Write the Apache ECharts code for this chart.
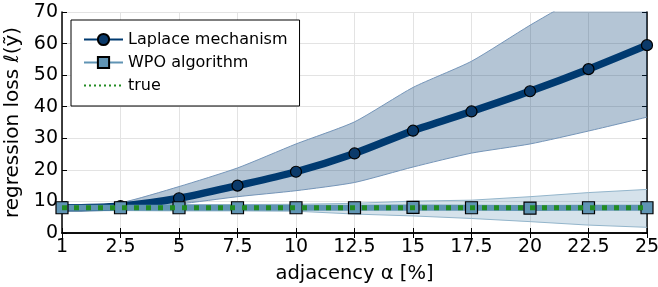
<!DOCTYPE html>
<html>
<head>
<meta charset="utf-8">
<script src="https://cdn.jsdelivr.net/npm/echarts@6/dist/echarts.min.js"></script>
<style>
  html, body { margin: 0; padding: 0; background: #fff; }
  #chart { width: 658px; height: 287px; }
</style>
</head>
<body>
<div id="chart"></div>
<script>
// adjacency alpha [%]
var categories = ["1", "2.5", "5", "7.5", "10", "12.5", "15", "17.5", "20", "22.5", "25"];

// Laplace mechanism: mean, lower/upper band
var laplaceMean  = [8.0, 8.5, 11.0, 15.0, 19.4, 25.2, 32.4, 38.5, 44.9, 51.9, 59.5];
var laplaceLower = [7.6, 8.0, 9.2, 11.5, 13.4, 16.0, 20.9, 25.3, 28.2, 32.3, 36.7];
var laplaceUpper = [8.6, 9.6, 14.7, 20.6, 28.2, 35.2, 46.1, 54.4, 65.8, 76.5, 87.5];

// WPO algorithm: mean, lower/upper band
var wpoMean  = [8.0, 8.0, 8.0, 8.0, 8.0, 8.0, 8.1, 8.0, 7.9, 8.0, 8.0];
var wpoLower = [7.0, 7.1, 7.0, 7.0, 6.9, 6.0, 5.4, 4.6, 3.6, 2.5, 1.8];
var wpoUpper = [9.0, 9.0, 9.0, 9.0, 9.1, 9.4, 10.1, 10.4, 11.5, 12.8, 13.8];

// true value
var trueLoss = [8, 8, 8, 8, 8, 8, 8, 8, 8, 8, 8];

var yTicks = { min: 0, max: 70, interval: 10 };

var myChart = echarts.init(document.getElementById("chart"));

function diff(a, b) {
  return a.map(function (v, i) { return +(v - b[i]).toFixed(2); });
}

var font = "DejaVu Sans";

var option = {
  animation: false,
  backgroundColor: "#fff",
  textStyle: { fontFamily: font },
  grid: { left: 62, right: 11, top: 12, bottom: 54, containLabel: false, outerBoundsMode: "none" },
  legend: {
    data: [
      { name: "Laplace mechanism" },
      { name: "WPO algorithm" },
      { name: "true", itemStyle: { opacity: 0 }, lineStyle: { width: 2, type: [2, 3] } }
    ],
    orient: "vertical",
    left: 71,
    top: 20,
    padding: [10, 12, 11, 12],
    itemGap: 4,
    itemWidth: 39,
    itemHeight: 14,
    lineStyle: { width: 2 },
    backgroundColor: "#fff",
    borderColor: "#000",
    borderWidth: 1,
    borderRadius: 0,
    textStyle: { fontFamily: font, fontSize: 16, color: "#000", lineHeight: 19 }
  },
  xAxis: [
    {
      type: "category",
      data: categories,
      boundaryGap: false,
      name: "adjacency α [%]",
      nameLocation: "middle",
      nameGap: 31,
      nameTextStyle: { fontFamily: font, fontSize: 19.5, color: "#000" },
      axisLine: { lineStyle: { color: "#000", width: 1.5 } },
      axisTick: { inside: true, length: 5, lineStyle: { color: "#000" } },
      axisLabel: { fontFamily: font, fontSize: 19, color: "#000", margin: 5 },
      splitLine: { show: true, lineStyle: { color: "#e3e3e3" } }
    },
    {
      type: "category",
      data: categories,
      boundaryGap: false,
      position: "top",
      axisLine: { lineStyle: { color: "#000", width: 1.5 } },
      axisTick: { inside: true, length: 5, lineStyle: { color: "#000" } },
      axisLabel: { show: false },
      splitLine: { show: false }
    }
  ],
  yAxis: [
    {
      type: "value",
      min: yTicks.min,
      max: yTicks.max,
      interval: yTicks.interval,
      name: "regression loss ℓ(ỹ)",
      nameLocation: "middle",
      nameGap: 37,
      nameTextStyle: { fontFamily: font, fontSize: 20, color: "#000" },
      axisLine: { show: true, lineStyle: { color: "#000", width: 1.5 } },
      axisTick: { show: true, inside: true, length: 5, lineStyle: { color: "#000" } },
      axisLabel: { fontFamily: font, fontSize: 19, color: "#000", margin: 4 },
      splitLine: { show: true, lineStyle: { color: "#e3e3e3" } }
    },
    {
      type: "value",
      min: yTicks.min,
      max: yTicks.max,
      interval: yTicks.interval,
      position: "right",
      axisLine: { show: true, lineStyle: { color: "#000", width: 1.5 } },
      axisTick: { show: true, inside: true, length: 5, lineStyle: { color: "#000" } },
      axisLabel: { show: false },
      splitLine: { show: false }
    }
  ],
  series: [
    // Laplace band
    {
      name: "lapLow", type: "line", data: laplaceLower, stack: "lap",
      symbol: "none", smooth: 0.2, z: 1,
      lineStyle: { color: "#7595b8", width: 1 }
    },
    {
      name: "lapBand", type: "line", data: diff(laplaceUpper, laplaceLower), stack: "lap",
      symbol: "none", smooth: 0.2, z: 1,
      lineStyle: { color: "#7595b8", width: 1 },
      areaStyle: { color: "rgba(0,58,112,0.42)" }
    },
    // WPO band
    {
      name: "wpoLow", type: "line", data: wpoLower, stack: "wpo",
      symbol: "none", z: 2,
      lineStyle: { color: "#93b5cb", width: 1 }
    },
    {
      name: "wpoBand", type: "line", data: diff(wpoUpper, wpoLower), stack: "wpo",
      symbol: "none", z: 2,
      lineStyle: { color: "#93b5cb", width: 1 },
      areaStyle: { color: "rgba(96,148,180,0.38)" }
    },
    {
      name: "Laplace mechanism", type: "line", data: laplaceMean,
      smooth: 0.3, z: 3,
      symbol: "circle", symbolSize: 11,
      lineStyle: { color: "#003a70", width: 7.5 },
      itemStyle: { color: "#0b3a6a", borderColor: "#000", borderWidth: 1.2 }
    },
    {
      name: "WPO algorithm", type: "line", data: wpoMean,
      z: 4,
      symbol: "rect", symbolSize: 12,
      lineStyle: { color: "#6094b4", width: 6 },
      itemStyle: { color: "#6094b4", borderColor: "#000", borderWidth: 1.2 }
    },
    {
      name: "true", type: "line", data: trueLoss,
      z: 5, symbol: "none",
      lineStyle: { color: "#228b22", width: 5, type: [5, 7] },
      itemStyle: { color: "#228b22" }
    }
  ]
};

myChart.setOption(option);
window.addEventListener("resize", function () {
  myChart.resize();
});
</script>
</body>
</html>
